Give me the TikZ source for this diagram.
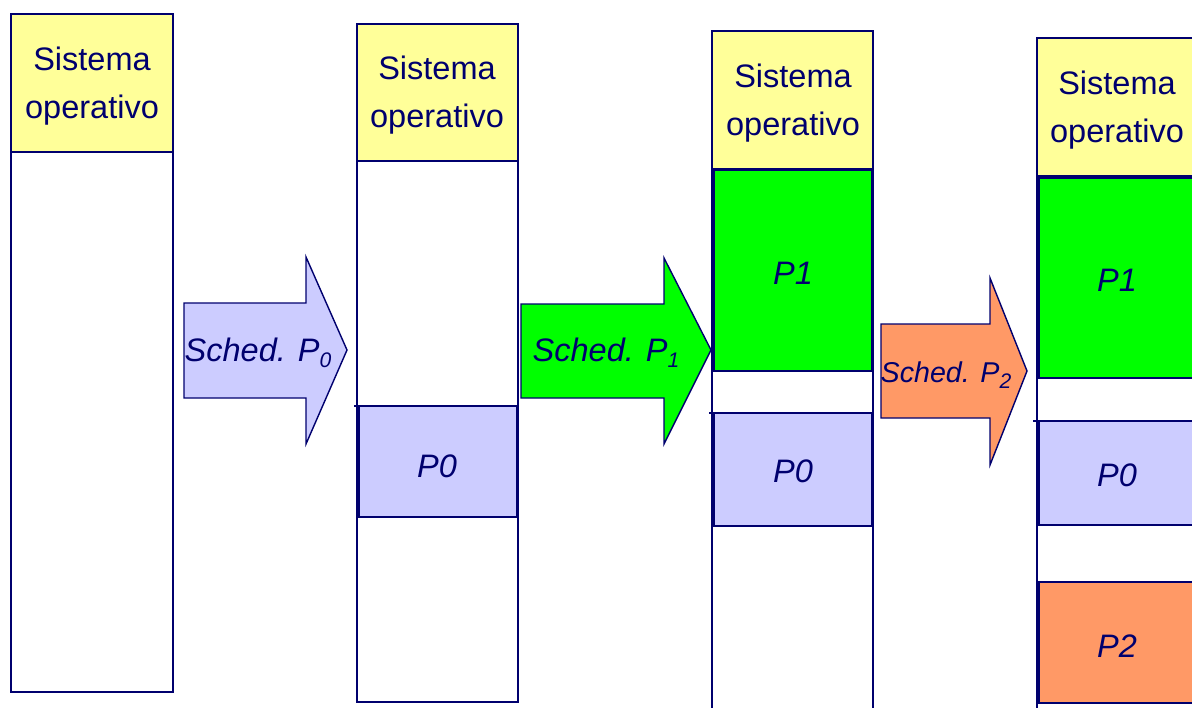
\documentclass[tikz,border=0pt]{standalone}
\usepackage{fontspec}
\setmainfont{Liberation Sans}
\usetikzlibrary{calc}

\definecolor{navy}{RGB}{0,0,110}
\definecolor{osyellow}{RGB}{255,255,153}
\definecolor{pblue}{RGB}{204,204,255}
\definecolor{pgreen}{RGB}{0,255,0}
\definecolor{porange}{RGB}{255,153,102}

\newcommand{\sub}[1]{\raisebox{-0.35ex}{\fontsize{12}{12}\selectfont\itshape #1}}

\begin{document}
\begin{tikzpicture}[x=0.02cm, y=-0.02cm,
  mem/.style={draw=navy, line width=0.8pt},
  lbl/.style={text=navy, font=\fontsize{18.5}{27}\selectfont, align=center},
  plbl/.style={lbl, font=\fontsize{18.5}{27}\selectfont\itshape}]
\useasboundingbox (0,0) rectangle (1192,707);
\clip (0,0) rectangle (1192,707);

% memoria 1
\draw[mem, fill=white] (11,14) rectangle (173,692);
\draw[mem, fill=osyellow] (11,14) rectangle (173,152);
\node[lbl] (so1) at (92,86) {Sistema\\operativo};

% flecha P0
\coordinate (A1) at (184,303);
\draw[mem, fill=pblue] (A1) -- (306,303) -- (306,257) -- (347,350) -- (306,444) -- (306,398) -- (184,398) -- cycle;
\node[plbl] (s0) at (258,353) {Sched. P\sub{0}};

% memoria 2
\draw[mem, fill=white] (357,24) rectangle (518,702);
\draw[mem, fill=osyellow] (357,24) rectangle (518,161);
\node[lbl] (so2) at (437,95) {Sistema\\operativo};
\draw[mem, fill=pblue] (359,406) rectangle (517,517);
\draw[mem] (354,406) -- (359,406);
\node[plbl] (p0a) at (437,466) {P0};

% flecha P1
\coordinate (A2) at (521,304);
\draw[mem, fill=pgreen] (A2) -- (664,304) -- (664,258) -- (711,350) -- (664,444) -- (664,398) -- (521,398) -- cycle;
\node[plbl] (s1) at (606,353) {Sched. P\sub{1}};

% memoria 3
\draw[mem, fill=white] (712,31) rectangle (873,730);
\draw[mem, fill=osyellow] (712,31) rectangle (873,169);
\node[lbl] (so3) at (793,103) {Sistema\\operativo};
\draw[mem, fill=pgreen] (714,170) rectangle (872,371);
\node[plbl] (p1a) at (793,273) {P1};
\draw[mem, fill=pblue] (714,413) rectangle (872,526);
\draw[mem] (709,413) -- (714,413);
\node[plbl] (p0b) at (793,471) {P0};

% flecha P2
\coordinate (A3) at (881,324);
\draw[mem, fill=porange] (A3) -- (990,324) -- (990,278) -- (1027,371) -- (990,465) -- (990,418) -- (881,418) -- cycle;
\node[plbl, font=\fontsize{16.3}{20}\selectfont\itshape] (s2) at (946,375) {Sched. P\sub{2}};

% memoria 4
\draw[mem, fill=white] (1037,38) rectangle (1220,730);
\draw[mem, fill=osyellow] (1037,38) rectangle (1220,176);
\node[lbl] (so4) at (1117,110) {Sistema\\operativo};
\draw[mem, fill=pgreen] (1039,178) rectangle (1220,378);
\node[plbl] (p1b) at (1117,280) {P1};
\draw[mem, fill=pblue] (1039,421) rectangle (1220,525);
\draw[mem] (1033,421) -- (1039,421);
\node[plbl] (p0c) at (1117,475) {P0};
\draw[mem, fill=porange] (1039,582) rectangle (1220,703);
\node[plbl] (p2) at (1117,646) {P2};
\end{tikzpicture}
\end{document}
